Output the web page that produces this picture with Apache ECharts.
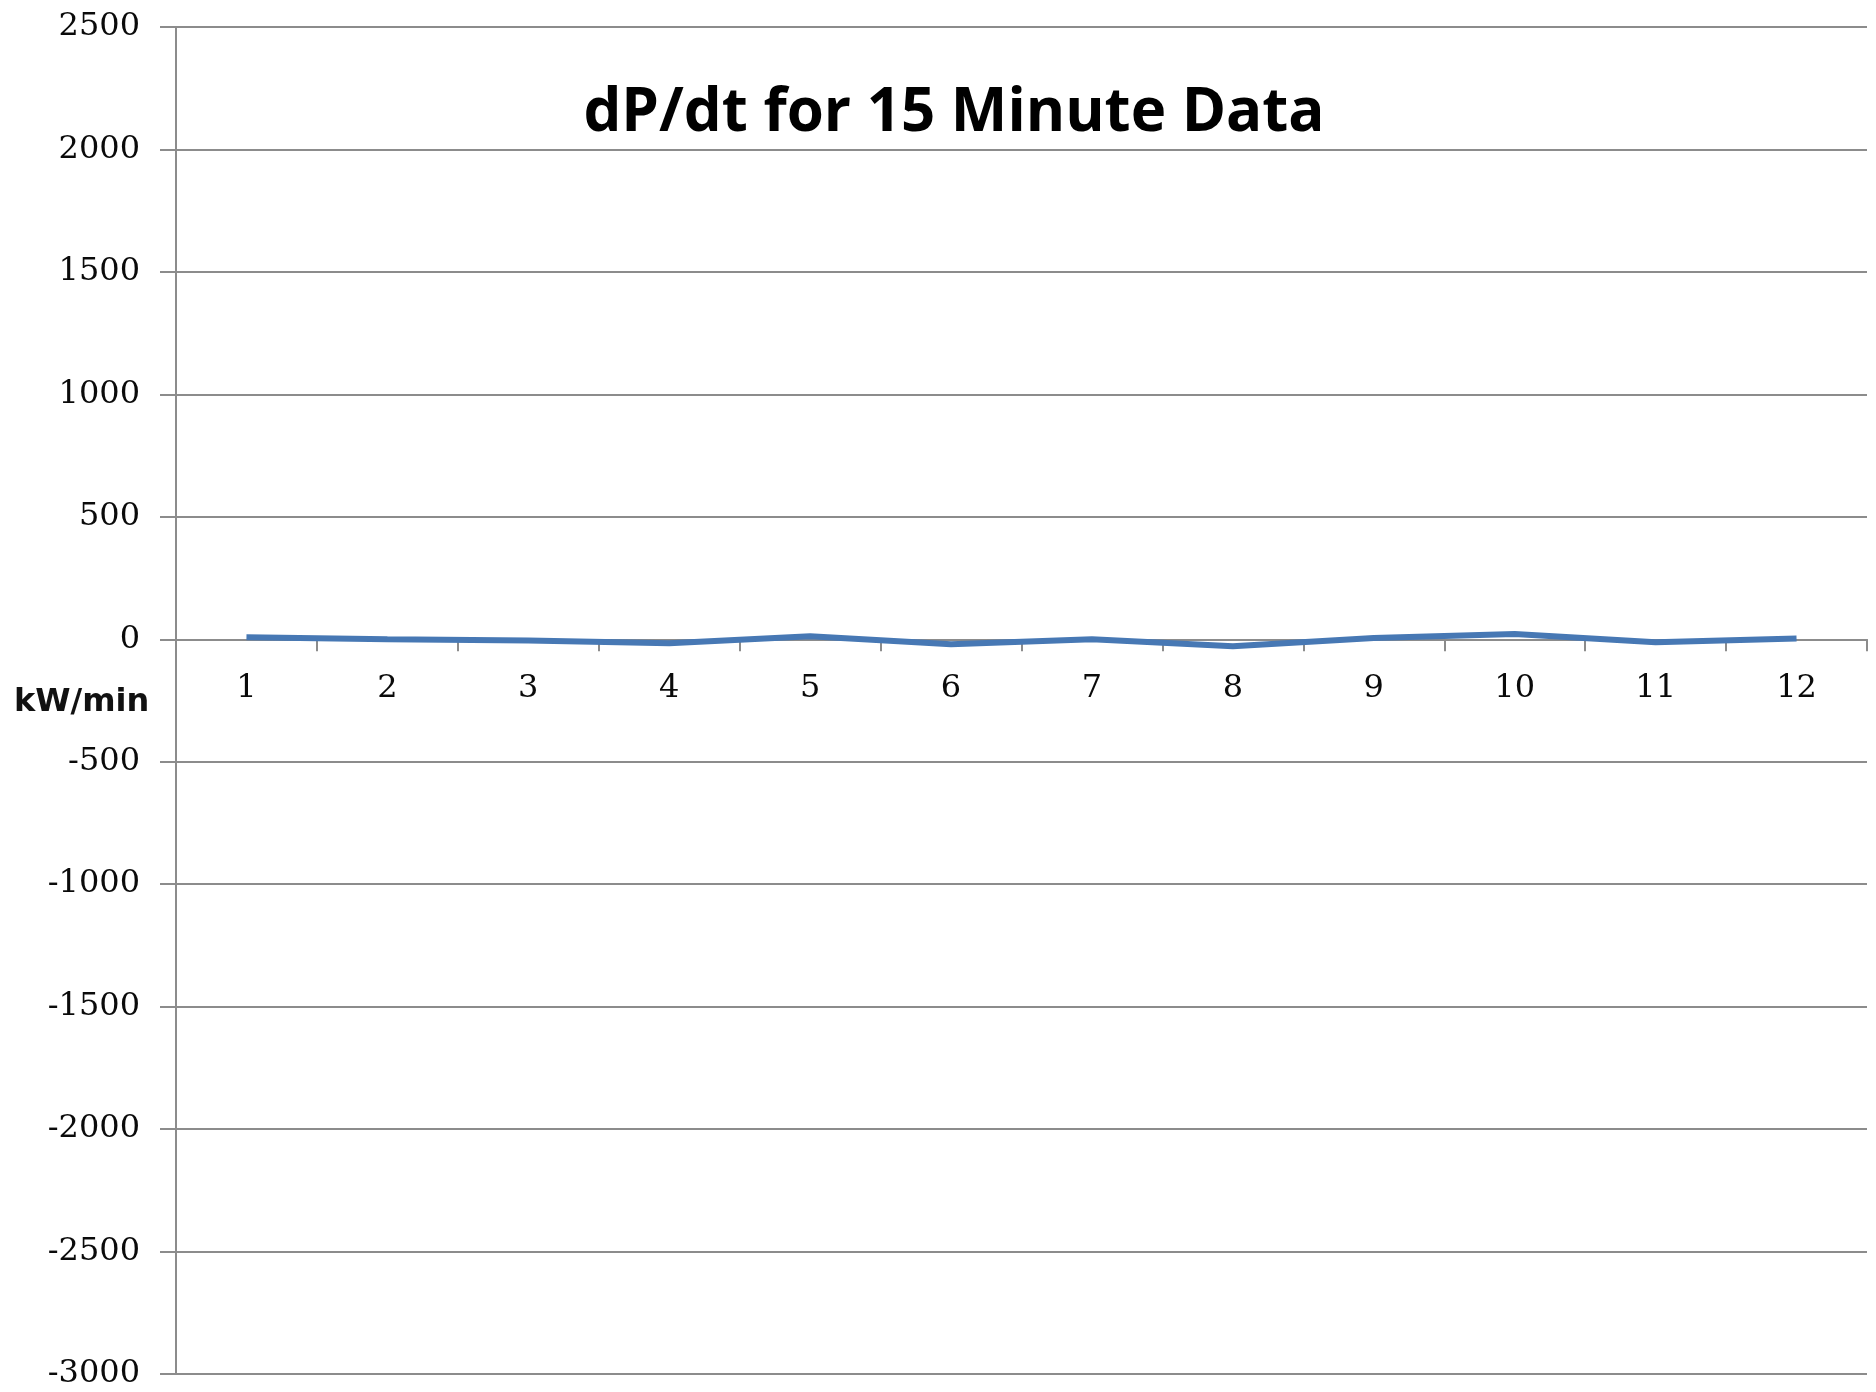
<!DOCTYPE html>
<html>
<head>
<meta charset="utf-8">
<title>dP/dt for 15 Minute Data</title>
<script src="https://cdn.jsdelivr.net/npm/echarts@6/dist/echarts.min.js"></script>
<style>
  html, body { margin: 0; padding: 0; background: #ffffff; }
  #chart { width: 1876px; height: 1392px; }
</style>
</head>
<body>
<div id="chart"></div>
<script>
// Interval index (one per 15-minute step)
const intervals = ['1', '2', '3', '4', '5', '6', '7', '8', '9', '10', '11', '12'];
// Rate of change of power, kW/min
const dPdt = [8, 0, -5, -16, 12, -20, 0, -28, 5, 22, -12, 3];
// Value axis range and step
const yMin = -3000;
const yMax = 2500;
const yStep = 500;

const chart = echarts.init(document.getElementById('chart'));

const gridColor = '#8c8c8c';
const labelFont = 'DejaVu Serif';
const gridTop = 27;
const gridBottom = 18;
const gridHeight = 1392 - gridTop - gridBottom;
// Lift the category axis (line, ticks and labels) up to the zero value
const zeroOffset = -gridHeight * (0 - yMin) / (yMax - yMin);

chart.setOption({
  backgroundColor: '#ffffff',
  animation: false,
  title: {
    text: 'dP/dt for 15 Minute Data',
    left: 949,
    top: 79,
    textAlign: 'center',
    textStyle: {
      fontFamily: 'Open Sans',
      fontWeight: 'bold',
      fontSize: 60,
      color: '#000000'
    }
  },
  graphic: [{
    type: 'text',
    left: 14,
    top: 687,
    style: {
      text: 'kW/min',
      fontFamily: 'DejaVu Sans',
      fontWeight: 'bold',
      fontSize: 32,
      fill: '#111111'
    }
  }],
  grid: {
    left: 176,
    right: 9,
    top: gridTop,
    bottom: gridBottom,
    containLabel: false
  },
  xAxis: {
    type: 'category',
    data: intervals,
    boundaryGap: true,
    position: 'bottom',
    offset: zeroOffset,
    axisLine: { onZero: false, lineStyle: { color: gridColor, width: 2 } },
    axisTick: { show: true, length: 12, lineStyle: { color: gridColor, width: 2 } },
    axisLabel: {
      margin: 33,
      fontFamily: labelFont,
      fontSize: 32,
      color: '#0a0a0a'
    },
    splitLine: { show: false }
  },
  yAxis: {
    type: 'value',
    min: yMin,
    max: yMax,
    interval: yStep,
    axisLine: { show: true, lineStyle: { color: gridColor, width: 2 } },
    axisTick: { show: true, length: 16, lineStyle: { color: gridColor, width: 2 } },
    axisLabel: {
      margin: 36,
      fontFamily: labelFont,
      fontSize: 32,
      color: '#0a0a0a',
      formatter: function (v) { return String(v); }
    },
    splitLine: { show: true, lineStyle: { color: gridColor, width: 2 } }
  },
  series: [{
    type: 'line',
    data: dPdt,
    showSymbol: false,
    lineStyle: { color: '#4778b4', width: 6 },
    itemStyle: { color: '#4778b4' },
    z: 5
  }]
});
</script>
</body>
</html>
